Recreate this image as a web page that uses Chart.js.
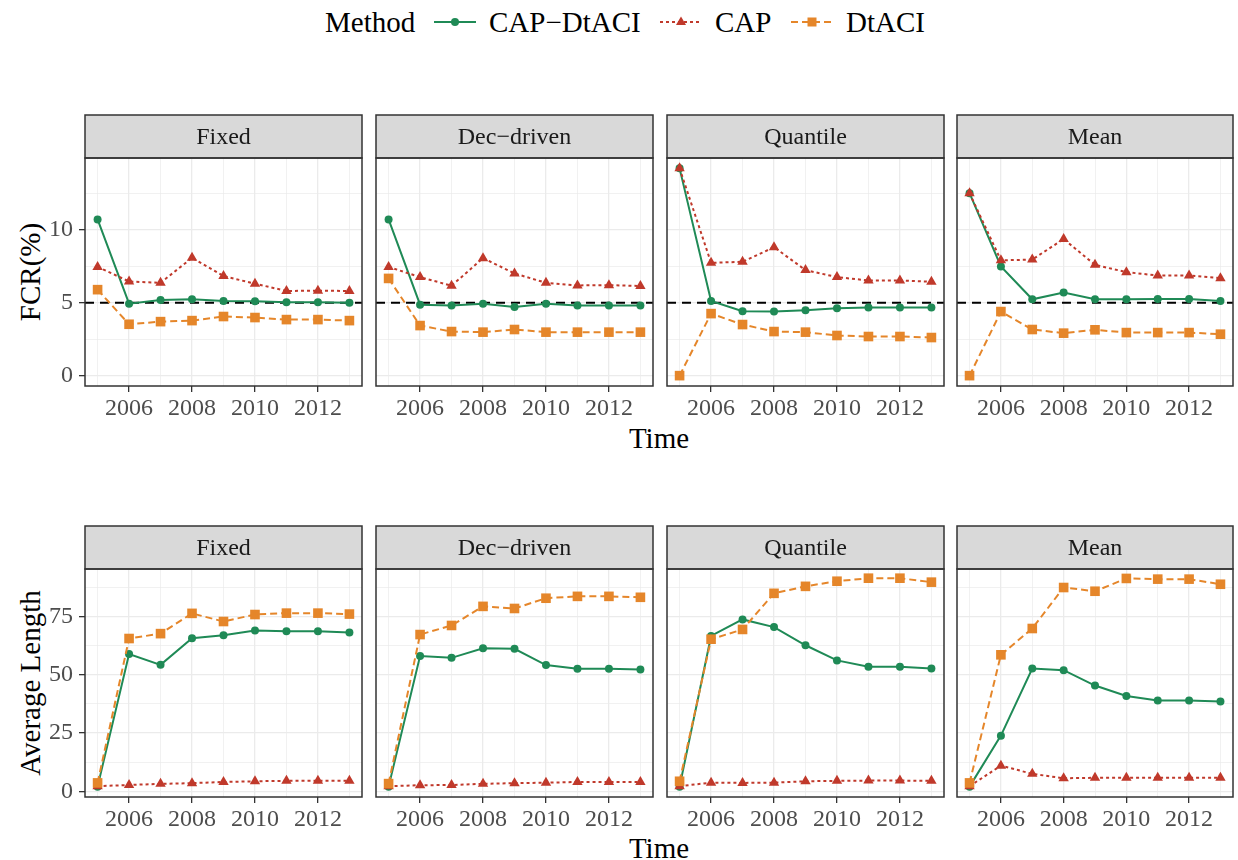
<!DOCTYPE html>
<html>
<head>
<meta charset="utf-8">
<script src="https://cdn.jsdelivr.net/npm/chart.js@4.4.0/dist/chart.umd.min.js"></script>
<style>
  body { margin: 0; background: #fff; width: 1238px; height: 860px; position: relative; overflow: hidden;
         font-family: "Liberation Serif", "Times New Roman", serif; }
  canvas { position: absolute; }
  .txt { position: absolute; font-size: 29px; line-height: 32px; color: #000; white-space: nowrap; }
  .rot { transform: translate(-50%, -50%) rotate(-90deg); }
  svg { position: absolute; }
</style>
</head>
<body>

<!-- legend -->
<div class="txt" style="left:325px;top:6px">Method</div>
<svg style="left:432px;top:12px" width="46" height="20">
  <line x1="2" y1="10" x2="44" y2="10" stroke="#1f8a56" stroke-width="2.2"/>
  <circle cx="23" cy="10" r="4" fill="#1f8a56"/>
</svg>
<div class="txt" style="left:489px;top:6px">CAP−DtACI</div>
<svg style="left:658px;top:12px" width="46" height="20">
  <line x1="2" y1="10" x2="44" y2="10" stroke="#c0392b" stroke-width="2.2" stroke-dasharray="3,3"/>
  <polygon points="23,4.5 28,13 18,13" fill="#c0392b"/>
</svg>
<div class="txt" style="left:715px;top:6px">CAP</div>
<svg style="left:789px;top:12px" width="46" height="20">
  <line x1="2" y1="10" x2="44" y2="10" stroke="#e5862a" stroke-width="2.2" stroke-dasharray="7,4"/>
  <rect x="18.5" y="5.5" width="9" height="9" fill="#e5862a"/>
</svg>
<div class="txt" style="left:846px;top:6px">DtACI</div>

<!-- axis titles -->
<div class="txt rot" style="left:30px;top:272px">FCR(%)</div>
<div class="txt" style="left:659px;top:422px;transform:translateX(-50%)">Time</div>
<div class="txt rot" style="left:30px;top:683px">Average Length</div>
<div class="txt" style="left:659px;top:832px;transform:translateX(-50%)">Time</div>

<script>
// ---- data ----
const years = [2005, 2006, 2007, 2008, 2009, 2010, 2011, 2012, 2013];
const facets = ["Fixed", "Dec−driven", "Quantile", "Mean"];
const xTickLabels = [2006, 2008, 2010, 2012];
const fcrTicks = [0, 5, 10];
const lenTicks = [0, 25, 50, 75];
const targetFcr = 5;

// FCR(%) per facet: Fixed, Dec-driven, Quantile, Mean
const fcrCapDtACI = [
  [10.7, 4.93, 5.18, 5.23, 5.11, 5.09, 5.02, 5.02, 5.0],
  [10.7, 4.86, 4.8, 4.93, 4.7, 4.93, 4.8, 4.8, 4.8],
  [14.2, 5.11, 4.41, 4.39, 4.48, 4.61, 4.66, 4.66, 4.66],
  [12.5, 7.48, 5.23, 5.7, 5.23, 5.23, 5.25, 5.25, 5.11]
];
const fcrCap = [
  [7.45, 6.45, 6.36, 8.07, 6.82, 6.3, 5.8, 5.82, 5.8],
  [7.45, 6.75, 6.16, 8.05, 7.0, 6.36, 6.18, 6.2, 6.14],
  [14.2, 7.73, 7.8, 8.8, 7.23, 6.75, 6.52, 6.52, 6.43],
  [12.5, 7.9, 7.95, 9.36, 7.59, 7.09, 6.86, 6.86, 6.68]
];
const fcrDtACI = [
  [5.89, 3.52, 3.7, 3.77, 4.05, 3.98, 3.84, 3.84, 3.77],
  [6.66, 3.43, 3.02, 2.98, 3.16, 2.98, 2.98, 2.98, 2.98],
  [0, 4.25, 3.5, 3.02, 2.98, 2.75, 2.68, 2.68, 2.61],
  [0, 4.39, 3.16, 2.91, 3.14, 2.95, 2.95, 2.95, 2.84]
];

// Average length per facet
const lenCapDtACI = [
  [2, 58.9, 54.3, 65.7, 67.0, 69.0, 68.7, 68.7, 68.2],
  [2, 58.1, 57.3, 61.4, 61.2, 54.2, 52.6, 52.6, 52.3],
  [2, 66.7, 73.8, 70.5, 62.7, 56.2, 53.5, 53.5, 52.7],
  [2, 23.9, 52.7, 52.0, 45.4, 40.9, 39.0, 39.0, 38.6]
];
const lenCap = [
  [2.2, 2.7, 3.2, 3.5, 4.0, 4.3, 4.5, 4.5, 4.5],
  [2.2, 2.6, 2.7, 3.2, 3.5, 3.7, 4.0, 4.0, 4.0],
  [2.2, 3.7, 3.6, 3.7, 4.3, 4.5, 4.6, 4.6, 4.5],
  [2.2, 11.0, 7.5, 5.6, 5.8, 5.8, 5.8, 5.8, 5.8]
];
const lenDtACI = [
  [3.6, 65.6, 67.7, 76.4, 72.9, 75.9, 76.5, 76.5, 76.1],
  [3.3, 67.3, 71.2, 79.4, 78.5, 82.9, 83.7, 83.7, 83.3],
  [4.3, 65.3, 69.5, 85.0, 88.0, 90.2, 91.5, 91.5, 89.8],
  [3.6, 58.6, 69.9, 87.5, 85.9, 91.4, 91.1, 91.1, 88.9]
];

// ---- layout ----
const FONT = "'Liberation Serif', 'Times New Roman', serif";
const GREEN = "#1f8a56", RED = "#c0392b", ORANGE = "#e5862a";
const panelL = [85, 376, 667, 957];
const panelR = [362, 653, 944, 1233];
const rowTop = [114, 525];
const STRIP_H = 44, PANEL_H = 228, XAXIS_H = 45;

const facetDeco = {
  id: "facetDeco",
  beforeDatasetsDraw(chart, args, opts) {
    if (opts.refLine == null) return;
    const { ctx, chartArea: a } = chart;
    const y = chart.scales.y.getPixelForValue(opts.refLine);
    ctx.save();
    ctx.strokeStyle = "#000";
    ctx.lineWidth = 2;
    ctx.setLineDash([9, 6]);
    ctx.beginPath();
    ctx.moveTo(a.left, y);
    ctx.lineTo(a.right, y);
    ctx.stroke();
    ctx.restore();
  },
  afterDraw(chart, args, opts) {
    const { ctx, chartArea: a } = chart;
    ctx.save();
    ctx.fillStyle = "#d9d9d9";
    ctx.fillRect(a.left, 1, a.right - a.left, a.top - 1);
    ctx.strokeStyle = "#333";
    ctx.lineWidth = 1.5;
    ctx.strokeRect(a.left, 1, a.right - a.left, a.top - 1);
    ctx.strokeRect(a.left, a.top, a.right - a.left, a.bottom - a.top);
    ctx.fillStyle = "#1a1a1a";
    ctx.font = "24px " + FONT;
    ctx.textAlign = "center";
    ctx.textBaseline = "middle";
    ctx.fillText(opts.title, (a.left + a.right) / 2, a.top / 2 + 2);
    ctx.restore();
  }
};

function makePanel(row, col) {
  const top = row === 0;
  const canvas = document.createElement("canvas");
  const left = col === 0 ? 0 : panelL[col] - 2;
  const w = panelR[col] + 3 - left;
  const h = STRIP_H + PANEL_H + XAXIS_H;
  canvas.width = w;
  canvas.height = h;
  canvas.style.left = left + "px";
  canvas.style.top = rowTop[row] + "px";
  document.body.appendChild(canvas);

  const majors = top ? fcrTicks : lenTicks;
  const yMin = top ? -0.71 : -2.45;
  const yMax = top ? 14.91 : 95.45;
  const half = (majors[1] - majors[0]) / 2;
  const yGrid = [];
  for (let v = majors[0]; v < yMax; v += half) yGrid.push(v);

  const cd = (top ? fcrCapDtACI : lenCapDtACI)[col];
  const cp = (top ? fcrCap : lenCap)[col];
  const dt = (top ? fcrDtACI : lenDtACI)[col];
  const pts = arr => arr.map((v, i) => ({ x: years[i], y: v }));

  new Chart(canvas, {
    type: "line",
    data: {
      datasets: [
        { label: "DtACI", data: pts(dt), borderColor: ORANGE, backgroundColor: ORANGE,
          borderWidth: 2, borderDash: [7, 4], pointStyle: "rect", pointRadius: 6.8,
          pointBorderWidth: 0, tension: 0, clip: 8 },
        { label: "CAP", data: pts(cp), borderColor: RED, backgroundColor: RED,
          borderWidth: 2, borderDash: [3, 3], pointStyle: "triangle", pointRadius: 6,
          pointBorderWidth: 0, tension: 0, clip: 8 },
        { label: "CAP−DtACI", data: pts(cd), borderColor: GREEN, backgroundColor: GREEN,
          borderWidth: 2, pointStyle: "circle", pointRadius: 4,
          pointBorderWidth: 0, tension: 0, clip: 8 }
      ]
    },
    options: {
      responsive: false,
      animation: false,
      devicePixelRatio: 1,
      layout: { autoPadding: false, padding: { top: STRIP_H, right: 3, left: col === 0 ? 0 : 2, bottom: 0 } },
      plugins: {
        legend: { display: false },
        tooltip: { enabled: false },
        facetDeco: { title: facets[col], refLine: top ? targetFcr : null }
      },
      scales: {
        x: {
          type: "linear",
          min: 2004.6,
          max: 2013.4,
          afterBuildTicks: s => { s.ticks = years.map(v => ({ value: v })); },
          afterFit: s => { s.height = XAXIS_H; },
          border: { display: false },
          grid: {
            color: "#ebebeb",
            lineWidth: c => xTickLabels.includes(c.tick.value) ? 1.3 : 0.7,
            tickColor: c => xTickLabels.includes(c.tick.value) ? "#333" : "rgba(0,0,0,0)",
            tickLength: 6,
            tickWidth: 1.3
          },
          ticks: {
            autoSkip: false,
            maxRotation: 0,
            padding: 2,
            color: "#4d4d4d",
            font: { family: FONT, size: 24 },
            callback: v => xTickLabels.includes(v) ? String(v) : ""
          }
        },
        y: {
          min: yMin,
          max: yMax,
          afterBuildTicks: s => { s.ticks = yGrid.map(v => ({ value: v })); },
          afterFit: s => { s.width = col === 0 ? 85 : 0; },
          border: { display: false },
          grid: {
            color: "#ebebeb",
            lineWidth: c => majors.includes(c.tick.value) ? 1.3 : 0.7,
            drawTicks: col === 0,
            tickColor: c => majors.includes(c.tick.value) ? "#333" : "rgba(0,0,0,0)",
            tickLength: 6,
            tickWidth: 1.3
          },
          ticks: {
            display: col === 0,
            padding: 6,
            color: "#4d4d4d",
            font: { family: FONT, size: 24 },
            callback: v => majors.includes(v) ? String(v) : ""
          }
        }
      }
    },
    plugins: [facetDeco]
  });
}

for (let r = 0; r < 2; r++) {
  for (let c = 0; c < 4; c++) makePanel(r, c);
}
</script>
</body>
</html>
